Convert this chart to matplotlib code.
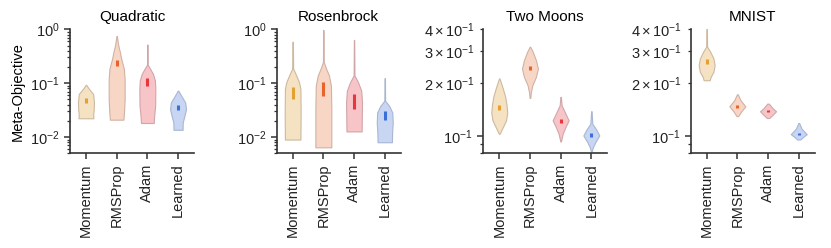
import numpy as np
import matplotlib
matplotlib.use("Agg")
import matplotlib.pyplot as plt

plt.rcParams['font.family'] = ['Liberation Sans', 'DejaVu Sans']
plt.rcParams['mathtext.fontset'] = 'custom'
plt.rcParams['mathtext.rm'] = 'Liberation Sans'
plt.rcParams['mathtext.it'] = 'Liberation Sans:italic'
plt.rcParams['mathtext.bf'] = 'Liberation Sans:bold'
plt.rcParams['font.size'] = 10.5

optimizers = ["Momentum", "RMSProp", "Adam", "Learned"]
titles = ["Quadratic", "Rosenbrock", "Two Moons", "MNIST"]
ylims = [(0.005, 1.0), (0.005, 1.0), (0.08, 0.4), (0.08, 0.4)]

fill_colors = ["#f5e2c2", "#f7d6c5", "#f7c5c8", "#c8d6f3"]
edge_colors = ["#cdb9a0", "#d0b2a5", "#d0a6a9", "#a9b6d2"]
bar_colors = ["#e4a031", "#e8642c", "#e8363c", "#3b6fd9"]

# Violin outlines: log10(meta-objective) levels (top -> bottom) and relative density width
quadratic_levels = [
    [-1.03, -1.107, -1.20, -1.35, -1.50, -1.576, -1.651],
    [-0.126, -0.20, -0.295, -0.42, -0.544, -0.732, -0.92, -1.295, -1.514, -1.677],
    [-0.282, -0.657, -0.72, -0.826, -0.951, -1.107, -1.42, -1.608, -1.739],
    [-1.139, -1.233, -1.358, -1.482, -1.608, -1.733, -1.865],
]
quadratic_density = [
    [0.03, 0.38, 0.90, 1.0, 0.97, 0.90, 0.93],
    [0.03, 0.10, 0.20, 0.40, 0.57, 0.90, 1.0, 1.0, 0.93, 0.85],
    [0.02, 0.04, 0.30, 0.70, 0.95, 1.0, 0.98, 0.85, 0.80],
    [0.04, 0.40, 0.90, 1.0, 0.80, 0.58, 0.57],
]
quadratic_q1 = [-1.36, -0.683, -1.058, -1.495]
quadratic_q3 = [-1.28, -0.563, -0.908, -1.407]

rosenbrock_levels = [
    [-0.232, -0.73, -0.857, -0.982, -1.107, -1.545, -2.046],
    [-0.013, -0.607, -0.732, -0.857, -1.045, -1.482, -2.19],
    [-0.20, -0.857, -0.982, -1.139, -1.358, -1.67, -1.895],
    [-0.907, -1.326, -1.42, -1.545, -1.733, -1.92, -2.096],
]
rosenbrock_density = [
    [0.03, 0.06, 0.45, 0.80, 0.97, 1.0, 0.97],
    [0.02, 0.05, 0.35, 0.70, 0.95, 1.0, 1.0],
    [0.02, 0.05, 0.50, 0.90, 1.0, 0.97, 0.95],
    [0.02, 0.05, 0.55, 0.95, 1.0, 0.92, 0.90],
]
rosenbrock_q1 = [-1.295, -1.245, -1.47, -1.683]
rosenbrock_q3 = [-1.064, -0.97, -1.20, -1.514]

twomoons_levels = [
    [-0.675, -0.704, -0.732, -0.779, -0.826, -0.868, -0.911, -0.949, -0.987],
    [-0.496, -0.525, -0.572, -0.619, -0.666, -0.713, -0.751, -0.785],
    [-0.779, -0.826, -0.868, -0.911, -0.949, -0.987, -1.03],
    [-0.86, -0.93, -0.962, -0.996, -1.034, -1.062, -1.087],
]
twomoons_density = [
    [0.03, 0.25, 0.45, 0.75, 0.92, 1.0, 0.85, 0.45, 0.05],
    [0.03, 0.35, 0.75, 1.0, 0.75, 0.30, 0.12, 0.04],
    [0.03, 0.12, 0.55, 1.0, 0.60, 0.25, 0.04],
    [0.03, 0.12, 0.60, 1.0, 0.50, 0.20, 0.04],
]
twomoons_q1 = [-0.851, -0.628, -0.924, -1.004]
twomoons_q3 = [-0.826, -0.604, -0.902, -0.981]

mnist_levels = [
    [-0.396, -0.496, -0.525, -0.562, -0.60, -0.638, -0.666, -0.685],
    [-0.764, -0.798, -0.832, -0.86, -0.887],
    [-0.817, -0.842, -0.86, -0.883, -0.898],
    [-0.926, -0.958, -0.989, -1.006, -1.019],
]
mnist_density = [
    [0.02, 0.06, 0.45, 0.85, 1.0, 0.85, 0.50, 0.38],
    [0.05, 0.40, 1.0, 0.50, 0.10],
    [0.10, 0.55, 1.0, 0.50, 0.15],
    [0.05, 0.35, 1.0, 0.50, 0.20],
]
mnist_q1 = [-0.596, -0.840, -0.865, -0.995]
mnist_q3 = [-0.568, -0.822, -0.855, -0.985]

panels = [
    (quadratic_levels, quadratic_density, quadratic_q1, quadratic_q3),
    (rosenbrock_levels, rosenbrock_density, rosenbrock_q1, rosenbrock_q3),
    (twomoons_levels, twomoons_density, twomoons_q1, twomoons_q3),
    (mnist_levels, mnist_density, mnist_q1, mnist_q3),
]

half_width = 0.26
W, H = 831, 248
fig = plt.figure(figsize=(W / 100, H / 100), dpi=100)
lefts = [70, 276.7, 483.3, 690.7]
ax_w, ax_top, ax_bot = 124, 29.3, 153.3
spine_col = "#333333"

for p, (levels, dens, q1, q3) in enumerate(panels):
    ax = fig.add_axes([lefts[p] / W, 1 - ax_bot / H, ax_w / W, (ax_bot - ax_top) / H])
    for i in range(len(optimizers)):
        y = 10 ** np.array(levels[i])
        w = np.array(dens[i]) * half_width
        ax.fill_betweenx(y, i - w, i + w, facecolor=fill_colors[i],
                         edgecolor=edge_colors[i], linewidth=0.8, zorder=2)
        ax.plot([i, i], [10 ** q1[i], 10 ** q3[i]], color=bar_colors[i],
                linewidth=2.2, solid_capstyle="butt", zorder=3)
    ax.set_yscale("log")
    ax.set_ylim(*ylims[p])
    ax.set_xlim(-0.52, 3.52)
    ax.set_xticks(range(len(optimizers)))
    ax.set_xticklabels(optimizers, rotation=90)
    ax.set_title(titles[p], fontsize=11, pad=6)
    for s in ["top", "right"]:
        ax.spines[s].set_visible(False)
    for s in ["left", "bottom"]:
        ax.spines[s].set_color(spine_col)
        ax.spines[s].set_linewidth(1.2)
    ax.tick_params(axis="both", which="major", length=4.5, width=1.1,
                   color=spine_col, labelcolor="#222222", labelsize=10.5, pad=3)
    ax.tick_params(axis="y", which="minor", length=2.5, width=0.9, color=spine_col,
                   labelsize=10.5, labelcolor="#222222")
    if p == 0:
        ax.set_ylabel("Meta-Objective", fontsize=10.5)

fig.savefig("out.png", dpi=100)
